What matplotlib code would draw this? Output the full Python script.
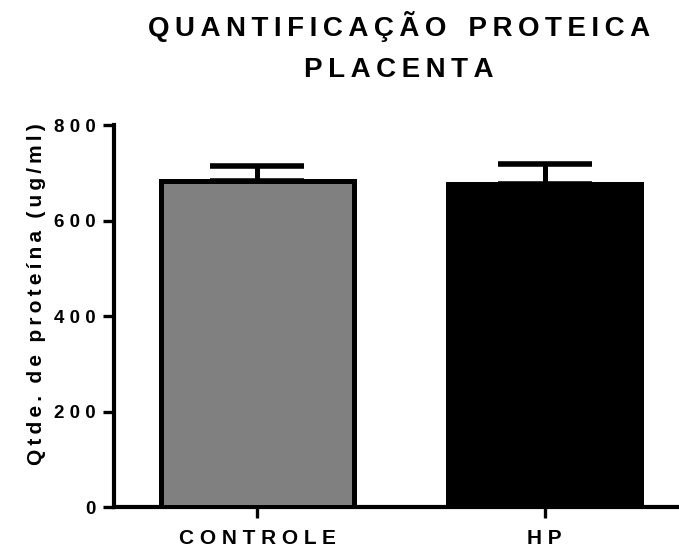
import matplotlib

matplotlib.use("Agg")

import matplotlib.pyplot as plt

GROUPS = ["CONTROLE", "HP"]
MEANS = [683, 677]
ERR_UP = [32, 41]
COLORS = ["#808080", "#000000"]
TITLE = ["QUANTIFICAÇÃO PROTEICA", "PLACENTA"]
YLABEL = "Qtde. de proteína (ug/ml)"
YTICKS = [0, 200, 400, 600, 800]

THIN = "\u2009"


def spaced(text: str, sep: str = " ", word: str = "  ") -> str:
    # Prism-style letter spacing
    return word.join(sep.join(w) for w in text.split(" "))


plt.rcParams["font.family"] = ["Liberation Sans", "DejaVu Sans"]
plt.rcParams["font.weight"] = "bold"

fig = plt.figure(figsize=(6.79, 5.51), dpi=100)
ax = fig.add_axes([114 / 679, 1 - 507 / 551, 1 - 114 / 679, (507 - 125) / 551])

x = list(range(len(GROUPS)))
ax.bar(x, MEANS, width=0.67, color=COLORS, edgecolor="black", linewidth=3.6, zorder=3)
ax.errorbar(x, MEANS, yerr=[[0] * len(x), ERR_UP], fmt="none", ecolor="black",
            elinewidth=3.6, capsize=34, capthick=4, zorder=2)

ax.set_xlim(-0.498, 1.467)
ax.set_ylim(0, 800)
ax.set_yticks(YTICKS)
ax.set_yticklabels([spaced(str(v)) for v in YTICKS])
ax.set_xticks(x)
ax.set_xticklabels([spaced(g) for g in GROUPS])
ax.tick_params(axis="y", width=2.4, length=8, labelsize=13.5, pad=5)
ax.tick_params(axis="x", width=2.4, length=8, labelsize=15, pad=8)
for side in ("top", "right"):
    ax.spines[side].set_visible(False)
for side in ("left", "bottom"):
    ax.spines[side].set_linewidth(3)

fig.text(37 / 679, 1 - 294 / 551, spaced(YLABEL, THIN, THIN * 3), rotation=90,
         ha="center", va="center", fontsize=15, fontweight="bold")

fig.text(399 / 679, 1 - 26 / 551, spaced(TITLE[0], THIN, THIN * 4), ha="center", va="center",
         fontsize=20, fontweight="bold")
fig.text(399 / 679, 1 - 70 / 551, spaced(TITLE[1], THIN, THIN * 4), ha="center", va="center",
         fontsize=20, fontweight="bold")

fig.savefig("out.png", dpi=100)
